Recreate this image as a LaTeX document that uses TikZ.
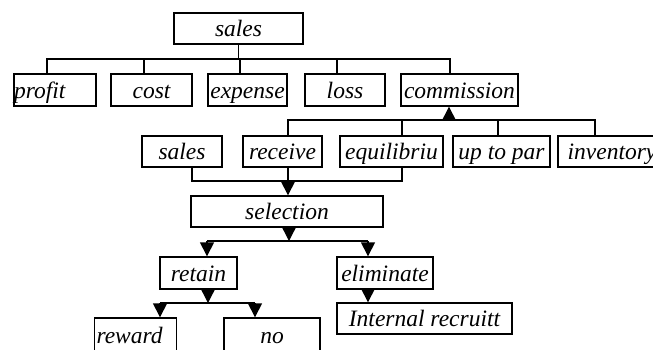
\documentclass[tikz,border=0pt]{standalone}
\usepackage{fontspec}
\setmainfont{Liberation Serif}
\usetikzlibrary{arrows.meta}
\begin{document}
\begin{tikzpicture}[x=1pt,y=-1pt,
  box/.style={draw, line width=1.4pt, inner sep=0pt, minimum height=31pt,
    text height=20pt, text depth=4pt,
    font=\fontsize{23.5}{28}\selectfont\itshape},
  lbox/.style={box, text width=#1, align=left},
  conn/.style={line width=1.4pt},
  arr/.style={line width=1.4pt, -{Triangle[width=14pt,length=14pt]}}]
\useasboundingbox (0,0) rectangle (653,349);
\clip (0,0) rectangle (653,349);
% column coordinates
\coordinate (bar1) at (0,59);
\coordinate (bar2) at (0,120);
\coordinate (bar3) at (0,181);
\coordinate (bar4) at (0,241);
\coordinate (bar5) at (0,303);
\foreach \x in {47,144,240,337,450,449,288,402,498,595,192,289,207,368,208,160,255}
  \coordinate (c\x) at (\x,0);
% top
\node[box, minimum width=129pt] (sales) at (238.5,28.5) {sales};
\node[lbox=82pt, minimum height=32pt] (profit) at (55,90) {profit};
\node[box, minimum width=81pt, minimum height=32pt] (cost) at (151.5,90) {cost};
\node[box, minimum width=79pt, minimum height=32pt] (expense) at (247.5,90) {expense};
\node[box, minimum width=80pt, minimum height=32pt] (loss) at (345,90) {loss};
\node[box, minimum width=117pt, minimum height=32pt] (commission) at (459.5,90) {commission};
% second row
\node[box, minimum width=80pt] (sales2) at (182,151.5) {sales};
\node[box, minimum width=79pt] (receive) at (282.5,151.5) {receive};
\node[box, minimum width=103pt] (equil) at (391.5,151.5) {equilibriu};
\node[box, minimum width=97pt] (uptopar) at (501.5,151.5) {up to par};
\node[box, minimum width=108pt] (inventory) at (612,151.5) {inventory};
% selection
\node[box, minimum width=192pt, minimum height=31pt] (selection) at (287,211.5) {selection};
\node[box, minimum width=77pt, minimum height=32pt] (retain) at (198.5,273) {retain};
\node[box, minimum width=96pt, minimum height=32pt] (eliminate) at (385,273) {eliminate};
\node[lbox=78pt, inner xsep=2pt, minimum height=34pt] (reward) at (135.5,335) {reward};
\node[box, minimum width=96pt, minimum height=34pt] (no) at (272,335) {no};
\node[box, minimum width=175pt, minimum height=31pt] (internal) at (424.5,318.5) {Internal recruitt};
% top connectors
\draw[conn] (sales.south) -- (sales.south |- bar1);
\draw[conn] (c47 |- profit.north) -- (c47 |- bar1) -- (c450 |- bar1) -- (c450 |- commission.north);
\draw[conn] (c144 |- cost.north) -- (c144 |- bar1);
\draw[conn] (c240 |- expense.north) -- (c240 |- bar1);
\draw[conn] (c337 |- loss.north) -- (c337 |- bar1);
% second row upper connectors
\draw[conn] (c288 |- receive.north) -- (c288 |- bar2) -- (c595 |- bar2) -- (c595 |- inventory.north);
\draw[conn] (c402 |- equil.north) -- (c402 |- bar2);
\draw[conn] (c498 |- uptopar.north) -- (c498 |- bar2);
\draw[arr] (c449 |- bar2) -- (c449 |- commission.south);
% second row lower connectors
\draw[conn] (c192 |- sales2.south) -- (c192 |- bar3) -- (c402 |- bar3) -- (c402 |- equil.south);
\draw[arr] (c288 |- receive.south) -- (c288 |- selection.north);
% selection
\draw[arr] (c289 |- selection.south) -- (c289 |- bar4);
\draw[conn] (c207 |- bar4) -- (c368 |- bar4);
\draw[arr] (c207 |- bar4) -- (c207 |- retain.north);
\draw[arr] (c368 |- bar4) -- (c368 |- eliminate.north);
% retain
\draw[arr] (c208 |- retain.south) -- (c208 |- bar5);
\draw[conn] (c160 |- bar5) -- (c255 |- bar5);
\draw[arr] (c160 |- bar5) -- (c160 |- reward.north);
\draw[arr] (c255 |- bar5) -- (c255 |- no.north);
% eliminate
\draw[arr] (c368 |- eliminate.south) -- (c368 |- internal.north);
\end{tikzpicture}
\end{document}
